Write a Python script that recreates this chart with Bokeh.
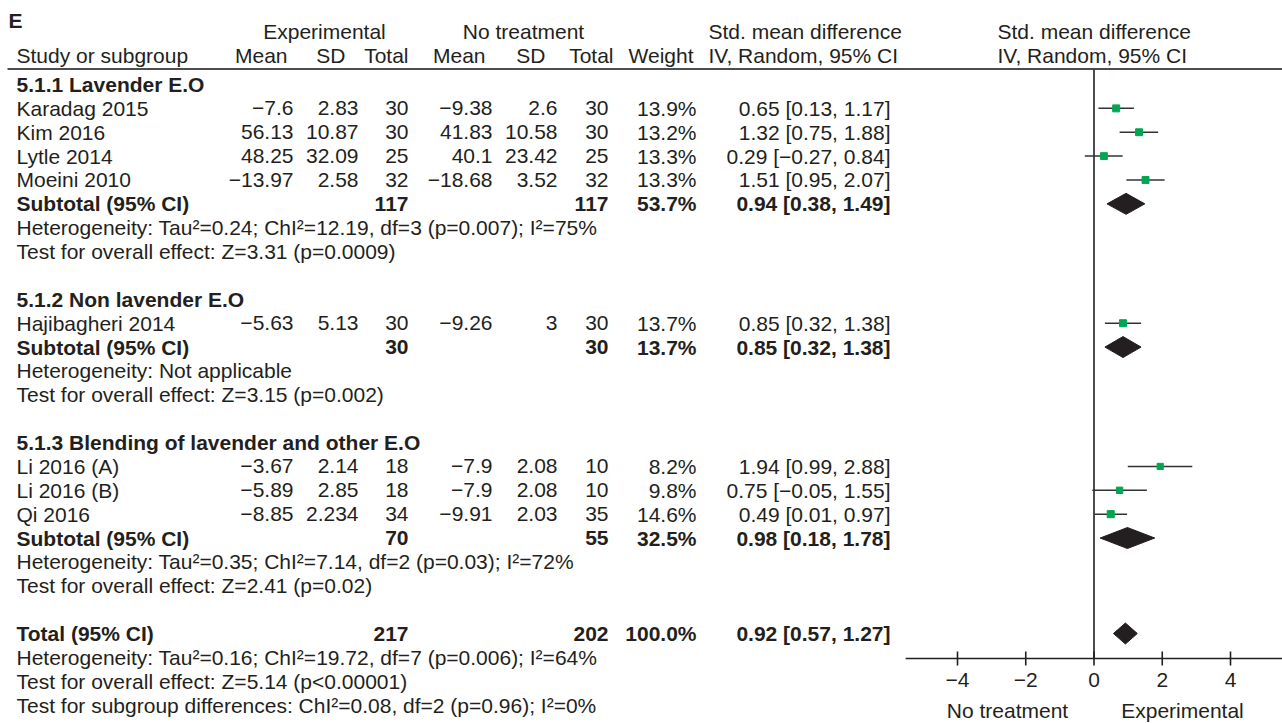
from bokeh.plotting import figure
from bokeh.models import Range1d, ColumnDataSource
from bokeh.core.properties import value
from bokeh.embed import file_html
from bokeh.resources import INLINE

# ---------------- data ----------------
studies = ["Karadag 2015", "Kim 2016", "Lytle 2014", "Moeini 2010",
           "Hajibagheri 2014", "Li 2016 (A)", "Li 2016 (B)", "Qi 2016"]
study_group = [0, 0, 0, 0, 1, 2, 2, 2]
exp_mean = [-7.6, 56.13, 48.25, -13.97, -5.63, -3.67, -5.89, -8.85]
exp_sd = [2.83, 10.87, 32.09, 2.58, 5.13, 2.14, 2.85, 2.234]
exp_n = [30, 30, 25, 32, 30, 18, 18, 34]
ctl_mean = [-9.38, 41.83, 40.1, -18.68, -9.26, -7.9, -7.9, -9.91]
ctl_sd = [2.6, 10.58, 23.42, 3.52, 3, 2.08, 2.08, 2.03]
ctl_n = [30, 30, 25, 32, 30, 10, 10, 35]
weight = [13.9, 13.2, 13.3, 13.3, 13.7, 8.2, 9.8, 14.6]
smd = [0.65, 1.32, 0.29, 1.51, 0.85, 1.94, 0.75, 0.49]
ci_lo = [0.13, 0.75, -0.27, 0.95, 0.32, 0.99, -0.05, 0.01]
ci_hi = [1.17, 1.88, 0.84, 2.07, 1.38, 2.88, 1.55, 0.97]

groups = ["5.1.1 Lavender E.O", "5.1.2 Non lavender E.O",
          "5.1.3 Blending of lavender and other E.O"]
sub_exp_n = [117, 30, 70]
sub_ctl_n = [117, 30, 55]
sub_weight = [53.7, 13.7, 32.5]
sub_smd = [0.94, 0.85, 0.98]
sub_lo = [0.38, 0.32, 0.18]
sub_hi = [1.49, 1.38, 1.78]
sub_het = ["Heterogeneity: Tau\u00b2=0.24; ChI\u00b2=12.19, df=3 (p=0.007); I\u00b2=75%",
           "Heterogeneity: Not applicable",
           "Heterogeneity: Tau\u00b2=0.35; ChI\u00b2=7.14, df=2 (p=0.03); I\u00b2=72%"]
sub_test = ["Test for overall effect: Z=3.31 (p=0.0009)",
            "Test for overall effect: Z=3.15 (p=0.002)",
            "Test for overall effect: Z=2.41 (p=0.02)"]

total_exp_n = 217
total_ctl_n = 202
total_weight = 100.0
total_smd = 0.92
total_lo = 0.57
total_hi = 1.27
total_notes = ["Heterogeneity: Tau\u00b2=0.16; ChI\u00b2=19.72, df=7 (p=0.006); I\u00b2=64%",
               "Test for overall effect: Z=5.14 (p<0.00001)",
               "Test for subgroup differences: ChI\u00b2=0.08, df=2 (p=0.96); I\u00b2=0%"]

axis_ticks = [-4, -2, 0, 2, 4]
axis_left_label = "No treatment"
axis_right_label = "Experimental"

# ---------------- layout ----------------
W, H = 1282, 723
FONT = "Liberation Sans"
FS = "21px"
TXT = "#231f20"
GREEN = "#00a651"
ROW0 = 84.0
ROWH = 23.87
ZERO_PX = 1093.5
UNIT_PX = 34.125

# column right edges (picture px)
X_EXP_MEAN, X_EXP_SD, X_EXP_N = 293, 358, 408
X_CTL_MEAN, X_CTL_SD, X_CTL_N = 492, 557, 608
X_W, X_CI = 696, 890
X_LEFT = 16


def num(v):
    return f"{v:g}".replace("-", "\u2212")


def cistr(m, l, h):
    return f"{m:.2f} [{l:.2f}, {h:.2f}]".replace("-", "\u2212")


def rowy(r):
    return ROW0 + ROWH * r


p = figure(width=W, height=H, output_backend="svg", toolbar_location=None,
           x_range=Range1d(0, W), y_range=Range1d(H, 0),
           min_border=0, min_border_left=0, min_border_right=0,
           min_border_top=0, min_border_bottom=0)
p.extra_x_ranges = {"forest": Range1d((0 - ZERO_PX) / UNIT_PX, (W - ZERO_PX) / UNIT_PX)}
p.axis.visible = False
p.grid.visible = False
p.outline_line_color = None
p.background_fill_color = "white"
p.border_fill_color = "white"

texts = {}  # (bold, align) -> dict


def add_text(x, y, t, bold=False, align="left"):
    key = (bold, align)
    d = texts.setdefault(key, {"x": [], "y": [], "t": []})
    d["x"].append(x)
    d["y"].append(y)
    d["t"].append(t)


# headers
add_text(8, 20, "E", bold=True)
add_text(324, 31, "Experimental", align="center")
add_text(523, 31, "No treatment", align="center")
add_text(708, 31, "Std. mean difference")
add_text(997, 31, "Std. mean difference")
add_text(X_LEFT, 55, "Study or subgroup")
add_text(287, 55, "Mean", align="right")
add_text(345, 55, "SD", align="right")
add_text(408, 55, "Total", align="right")
add_text(485, 55, "Mean", align="right")
add_text(545, 55, "SD", align="right")
add_text(613, 55, "Total", align="right")
add_text(693, 55, "Weight", align="right")
add_text(708, 55, "IV, Random, 95% CI")
add_text(997, 55, "IV, Random, 95% CI")

# forest mark sources
sq = {"x": [], "y": [], "lo": [], "hi": [], "size": []}
dia_xs, dia_ys = [], []

r = 0
for g, gname in enumerate(groups):
    add_text(X_LEFT, rowy(r), gname, bold=True)
    r += 1
    for i in range(len(studies)):
        if study_group[i] != g:
            continue
        y = rowy(r)
        add_text(X_LEFT, y, studies[i])
        add_text(X_EXP_MEAN, y, num(exp_mean[i]), align="right")
        add_text(X_EXP_SD, y, num(exp_sd[i]), align="right")
        add_text(X_EXP_N, y, num(exp_n[i]), align="right")
        add_text(X_CTL_MEAN, y, num(ctl_mean[i]), align="right")
        add_text(X_CTL_SD, y, num(ctl_sd[i]), align="right")
        add_text(X_CTL_N, y, num(ctl_n[i]), align="right")
        add_text(X_W, y, f"{weight[i]:.1f}%", align="right")
        add_text(X_CI, y, cistr(smd[i], ci_lo[i], ci_hi[i]), align="right")
        sq["x"].append(smd[i])
        sq["y"].append(y)
        sq["lo"].append(ci_lo[i])
        sq["hi"].append(ci_hi[i])
        sq["size"].append(5.0 + 2.0 * weight[i] / 14.0)
        r += 1
    y = rowy(r)
    add_text(X_LEFT, y, "Subtotal (95% CI)", bold=True)
    add_text(X_EXP_N, y, num(sub_exp_n[g]), bold=True, align="right")
    add_text(X_CTL_N, y, num(sub_ctl_n[g]), bold=True, align="right")
    add_text(X_W, y, f"{sub_weight[g]:.1f}%", bold=True, align="right")
    add_text(X_CI, y, cistr(sub_smd[g], sub_lo[g], sub_hi[g]), bold=True, align="right")
    dia_xs.append([sub_lo[g], sub_smd[g], sub_hi[g], sub_smd[g]])
    dia_ys.append([y, y - 10.5, y, y + 10.5])
    r += 1
    add_text(X_LEFT, rowy(r), sub_het[g])
    r += 1
    add_text(X_LEFT, rowy(r), sub_test[g])
    r += 2

y = rowy(r)
add_text(X_LEFT, y, "Total (95% CI)", bold=True)
add_text(X_EXP_N, y, num(total_exp_n), bold=True, align="right")
add_text(X_CTL_N, y, num(total_ctl_n), bold=True, align="right")
add_text(X_W, y, f"{total_weight:.1f}%", bold=True, align="right")
add_text(X_CI, y, cistr(total_smd, total_lo, total_hi), bold=True, align="right")
dia_xs.append([total_lo, total_smd, total_hi, total_smd])
dia_ys.append([y, y - 10.5, y, y + 10.5])
r += 1
for note in total_notes:
    add_text(X_LEFT, rowy(r), note)
    r += 1

# header rule
p.segment(x0=[7], y0=[68.5], x1=[W], y1=[68.5], line_color="#4d4d4f", line_width=2)

# forest plot: zero line
AXIS_Y = 658
p.segment(x0=[0], y0=[69], x1=[0], y1=[AXIS_Y], x_range_name="forest",
          line_color=TXT, line_width=1.6)
# axis line
p.segment(x0=[-5.52], y0=[AXIS_Y], x1=[5.6], y1=[AXIS_Y], x_range_name="forest",
          line_color=TXT, line_width=1.6)
p.segment(x0=axis_ticks, y0=[651] * len(axis_ticks), x1=axis_ticks, y1=[665] * len(axis_ticks),
          x_range_name="forest", line_color=TXT, line_width=1.6)
p.text(x=axis_ticks, y=[679] * len(axis_ticks), text=[num(t) for t in axis_ticks],
       x_range_name="forest", text_font=value(FONT), text_font_size=FS,
       text_color=TXT, text_align="center", text_baseline="middle")
p.text(x=[1007, 1182], y=[710, 710], text=[axis_left_label, axis_right_label],
       text_font=value(FONT), text_font_size=FS, text_color=TXT,
       text_align="center", text_baseline="middle")

# CI lines and squares
src = ColumnDataSource(sq)
p.segment(x0="lo", y0="y", x1="hi", y1="y", source=src, x_range_name="forest",
          line_color="#333333", line_width=1.5)
p.scatter(x="x", y="y", size="size", marker="square", source=src, x_range_name="forest",
          fill_color=GREEN, line_color=GREEN)
# diamonds
p.patches(xs=dia_xs, ys=dia_ys, x_range_name="forest", fill_color=TXT, line_color=TXT)

# texts
for (bold, align), d in texts.items():
    p.text(x=d["x"], y=d["y"], text=d["t"], text_font=value(FONT), text_font_size=FS,
           text_font_style="bold" if bold else "normal", text_color=TXT,
           text_align=align, text_baseline="middle")

open("out.html", "w").write(file_html(p, INLINE))
